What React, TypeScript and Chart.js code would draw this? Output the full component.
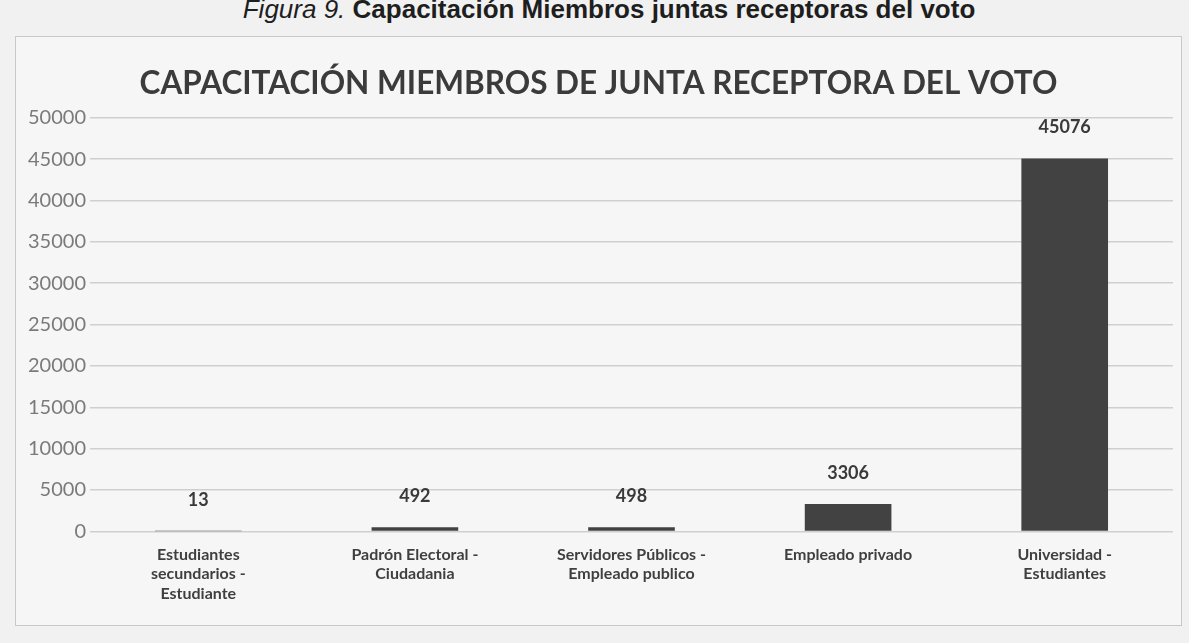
import React, { useEffect, useRef } from "react";
import { Chart, registerables } from "chart.js";

Chart.register(...registerables);

const categories: (string | string[])[] = [
  ["Estudiantes", "secundarios -", "Estudiante"],
  ["Padrón Electoral -", "Ciudadania"],
  ["Servidores Públicos -", "Empleado publico"],
  "Empleado privado",
  ["Universidad -", "Estudiantes"],
];
const values: number[] = [13, 492, 498, 3306, 45076];
const yTicks: number[] = [0, 5000, 10000, 15000, 20000, 25000, 30000, 35000, 40000, 45000, 50000];

const chartTitle = "CAPACITACIÓN MIEMBROS DE JUNTA RECEPTORA DEL VOTO";

const valueLabels = {
  id: "valueLabels",
  afterDatasetsDraw(chart: any) {
    const ctx = chart.ctx;
    const meta = chart.getDatasetMeta(0);
    ctx.save();
    ctx.font = "bold 18px Lato, 'Open Sans', sans-serif";
    ctx.fillStyle = "#3a3a3a";
    ctx.textAlign = "center";
    ctx.textBaseline = "bottom";
    meta.data.forEach((el: any, i: number) => {
      ctx.fillText(String(values[i]), el.x, el.y - 22);
    });
    ctx.restore();
  },
};

export default function App() {
  const ref = useRef<HTMLCanvasElement | null>(null);
  useEffect(() => {
    if (!ref.current) return;
    const chart = new Chart(ref.current, {
      type: "bar",
      data: {
        labels: categories,
        datasets: [
          {
            data: values,
            backgroundColor: "#424242",
            barPercentage: 0.4,
            categoryPercentage: 1,
          },
        ],
      },
      options: {
        animation: false,
        responsive: false,
        maintainAspectRatio: false,
        layout: { padding: { left: 8, right: 8, top: 0, bottom: 16 } },
        plugins: {
          legend: { display: false },
          tooltip: { enabled: false },
          title: {
            display: true,
            text: chartTitle,
            color: "#3b3b3b",
            font: { family: "Lato, 'Open Sans', sans-serif", size: 31.5, weight: "bold" },
            padding: { top: 28, bottom: 15 },
          },
        },
        scales: {
          x: {
            grid: { display: false },
            border: { display: false },
            ticks: {
              color: "#3f3f3f",
              font: { family: "Lato, 'Open Sans', sans-serif", size: 16, weight: "bold", lineHeight: 1.2 },
              maxRotation: 0,
              autoSkip: false,
              padding: 6,
            },
          },
          y: {
            min: 0,
            max: 50000,
            afterBuildTicks(scale: any) {
              scale.ticks = yTicks.map((v) => ({ value: v }));
            },
            grid: { color: "#cfcfcf", lineWidth: 1.5, drawTicks: false },
            border: { display: false },
            ticks: {
              color: "#7a7a7a",
              font: { family: "Lato, 'Open Sans', sans-serif", size: 20 },
              padding: 4,
              callback: (v: any) => String(v),
            },
          },
        },
      },
      plugins: [valueLabels],
    });
    return () => chart.destroy();
  }, []);

  return (
    <div
      style={{
        position: "fixed",
        left: 0,
        top: 0,
        width: 1189,
        height: 643,
        background: "#f1f1f1",
        overflow: "hidden",
      }}
    >
      <div
        style={{
          position: "absolute",
          top: -4,
          left: 0,
          width: 1218,
          textAlign: "center",
          fontFamily: "'Liberation Sans', Arial, sans-serif",
          fontSize: 26,
          lineHeight: "26px",
          color: "#1e1e1e",
          whiteSpace: "nowrap",
        }}
      >
        <i>Figura 9.</i> <b>Capacitación Miembros juntas receptoras del voto</b>
      </div>
      <div
        style={{
          position: "absolute",
          left: 15,
          top: 36,
          width: 1165,
          height: 588,
          border: "1.5px solid #c8c8c8",
          background: "#f6f6f6",
        }}
      >
        <canvas ref={ref} width={1165} height={588} />
      </div>
    </div>
  );
}
